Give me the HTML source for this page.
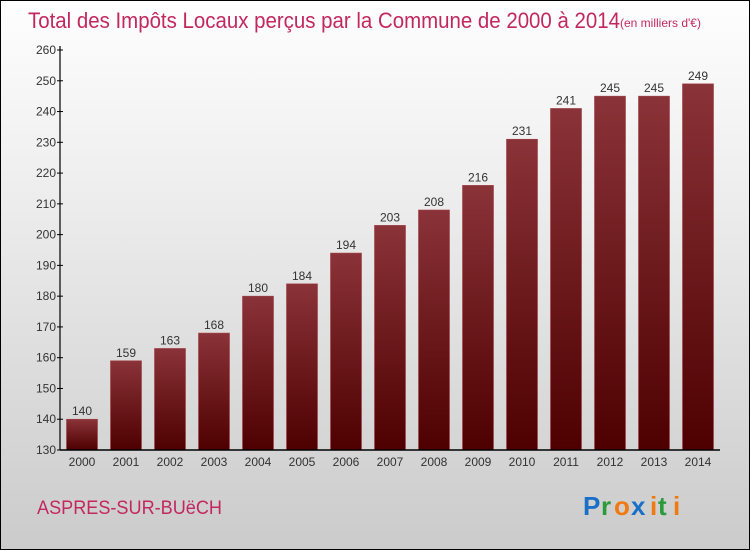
<!DOCTYPE html>
<html><head><meta charset="utf-8"><style>
body{margin:0}
#c{width:750px;height:550px;position:relative;box-sizing:border-box;border:1px solid #000;background:linear-gradient(#fefefe,#f0f0f0 30%,#cbcbcb);font-family:"Liberation Sans",sans-serif;overflow:hidden}
</style></head><body>
<div id="c">
<svg id="s" width="750" height="550" style="position:absolute;left:-1px;top:-1px">
<defs><linearGradient id="g" x1="0" y1="0" x2="0" y2="1"><stop offset="0" stop-color="#8a3338"/><stop offset="1" stop-color="#4e0000"/></linearGradient></defs>
<text x="28" y="28" font-size="22" fill="#c2285e" textLength="592" lengthAdjust="spacingAndGlyphs">Total des Impôts Locaux perçus par la Commune de 2000 à 2014</text>
<text x="620" y="27" font-size="12" fill="#c2285e">(en milliers d'€)</text>
<text x="37" y="514" font-size="19" fill="#c2285e" textLength="185" lengthAdjust="spacingAndGlyphs">ASPRES-SUR-BUëCH</text>
<g font-size="26" font-weight="bold">
<text x="583" y="515" fill="#1a6fc9">P</text><text x="601" y="515" fill="#2a9a3a">r</text><text x="614" y="515" fill="#f07a10">o</text><text x="631" y="515" fill="#1a6fc9">x</text><text x="650" y="515" fill="#f07a10">i</text><text x="658" y="515" fill="#2a9a3a">t</text><text x="673" y="515" fill="#f07a10">i</text>
</g>
<g id="plot"></g>
</svg>
</div>
<script>
const years=["2000","2001","2002","2003","2004","2005","2006","2007","2008","2009","2010","2011","2012","2013","2014"];
const values=[140,159,163,168,180,184,194,203,208,216,231,241,245,245,249];
const yTicks=[130,140,150,160,170,180,190,200,210,220,230,240,250,260];
const ns="http://www.w3.org/2000/svg";
const g=document.getElementById('plot');
const x0=60,x1=720,yMin=130,yMax=260,py0=450,py1=50;
const band=(x1-x0)/years.length;
const y=v=>py0-(v-yMin)/(yMax-yMin)*(py0-py1);
function el(t,a){const e=document.createElementNS(ns,t);for(const k in a)e.setAttribute(k,a[k]);g.appendChild(e);return e;}
yTicks.forEach(t=>{
 const l=el('line',{x1:x0-3,x2:x0+3,y1:y(t),y2:y(t),stroke:'#000'});
 
 
 const tx=el('text',{x:x0-4,y:y(t)+4,'font-size':12,'text-anchor':'end',fill:'#333'});
 tx.textContent=t;
 
 
});
years.forEach((yr,i)=>{
 const cx=x0+band*(i+0.5),v=values[i];
 const r=el('rect',{x:cx-15.5,y:y(v),width:31,height:py0-y(v),fill:'url(#g)',stroke:'#a04048','stroke-width':0.6});
 
 
 const vt=el('text',{x:cx,y:y(v)-4,'font-size':12,'text-anchor':'middle',fill:'#333'});
 vt.textContent=v;
 
 
 const xt=el('text',{x:cx,y:py0+16,'font-size':12,'text-anchor':'middle',fill:'#333'});
 xt.textContent=yr;
 
 
});
const ya=el('line',{x1:x0,x2:x0,y1:py1-4,y2:py0,stroke:'#000','stroke-width':1.2});


const xa=el('line',{x1:x0,x2:x1,y1:py0,y2:py0,stroke:'#000','stroke-width':1.5});


</script>
</body></html>
